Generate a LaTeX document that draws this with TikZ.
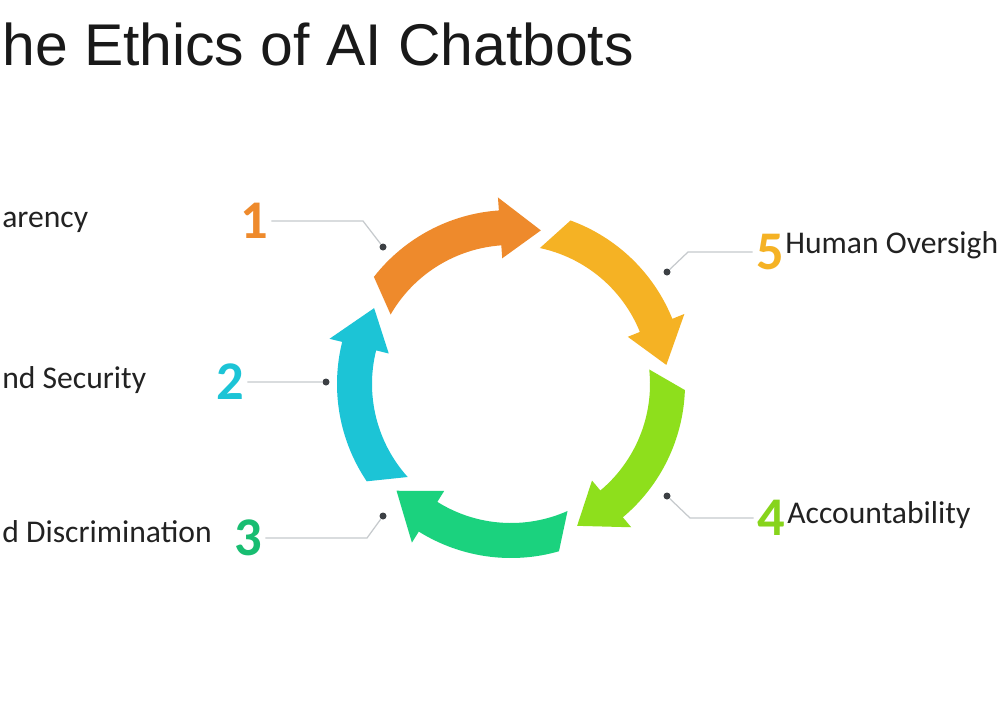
\documentclass[tikz,border=0pt]{standalone}
\usepackage{fontspec}
\setmainfont{Carlito}
\newfontfamily\titlefont{Liberation Sans}
\usepackage{xcolor}
\definecolor{ringorange}{HTML}{EE8A2C}
\definecolor{ringyellow}{HTML}{F5B224}
\definecolor{ringlime}{HTML}{8EDF1C}
\definecolor{ringgreen}{HTML}{1BD27E}
\definecolor{ringcyan}{HTML}{1CC4D6}
\definecolor{leadergray}{HTML}{C6CACD}
\definecolor{dotgray}{HTML}{3C4044}
\definecolor{labelgray}{HTML}{222222}

\begin{document}
\begin{tikzpicture}[x=0.02cm,y=-0.02cm,
    num node/.style={inner sep=0,outer sep=2pt,font=\bfseries\fontsize{31}{31}\selectfont},
    label node/.style={inner sep=0,text=labelgray,font=\fontsize{18}{21}\selectfont},
    dot node/.style={circle,fill=dotgray,inner sep=0,minimum size=0.14cm},
    leader/.style={draw=leadergray,line width=0.7pt}]
    \clip (0,0) rectangle (1000,700);
    \useasboundingbox (0,0) rectangle (1000,700);
    \fill[white] (0,0) rectangle (1000,700);

    % title
    \node[inner sep=0,anchor=base west,text=black!90,font=\titlefont\fontsize{33.5}{36}\selectfont] (title) at (2,65) {he Ethics of AI Chatbots};

    % ring of arrows
    \begin{scope}[shift={(511,384)},x=0.02cm,y=0.02cm]
        \fill[ringorange] (142:174) arc[start angle=142,end angle=94,radius=174] -- (94:187) -- (79:156.5) -- (94:126) -- (94:139) arc[start angle=94,end angle=150,radius=139] -- cycle;
        \fill[ringyellow] (70:174) arc[start angle=70,end angle=22,radius=174] -- (22:187) -- (7:156.5) -- (22:126) -- (22:139) arc[start angle=22,end angle=78,radius=139] -- cycle;
        \fill[ringlime] (-2:174) arc[start angle=-2,end angle=-50,radius=174] -- (-50:187) -- (-65:156.5) -- (-50:126) -- (-50:139) arc[start angle=-50,end angle=6,radius=139] -- cycle;
        \fill[ringgreen] (-74:174) arc[start angle=-74,end angle=-122,radius=174] -- (-122:187) -- (-137:156.5) -- (-122:126) -- (-122:139) arc[start angle=-122,end angle=-66,radius=139] -- cycle;
        \fill[ringcyan] (-146:174) arc[start angle=-146,end angle=-194,radius=174] -- (-194:187) -- (-209:156.5) -- (-194:126) -- (-194:139) arc[start angle=-194,end angle=-138,radius=139] -- cycle;
    \end{scope}

    % numbers
    \node[num node,text=ringorange] (n1) at (254,221) {1};
    \node[num node,text=ringcyan] (n2) at (230,382) {2};
    \node[num node,text=ringgreen!90!black] (n3) at (248,538) {3};
    \node[num node,text=ringyellow] (n5) at (770,252) {5};
    \node[num node,text=ringlime!95!black] (n4) at (771,518) {4};

    % dots on the ring
    \node[dot node] (d1) at (383,247) {};
    \node[dot node] (d2) at (326,382) {};
    \node[dot node] (d3) at (383,516) {};
    \node[dot node] (d5) at (667,272) {};
    \node[dot node] (d4) at (667,496) {};
    \coordinate (k1) at (363,221);
    \coordinate (k3) at (367,538);
    \coordinate (k5) at (688,252);
    \coordinate (k4) at (690,518);

    \path[leader]
        (n1.east) -- (k1) -- (d1)
        (n2.east) -- (d2)
        (n3.east) -- (k3) -- (d3)
        (n5.west) -- (k5) -- (d5)
        (n4.west) -- (k4) -- (d4);

    % labels
    \node[label node,anchor=base west] (l1) at (2,227) {arency};
    \node[label node,anchor=base west] (l2) at (2,388) {nd Security};
    \node[label node,anchor=base west] (l3) at (2,542) {d Discrimination};
    \node[label node,anchor=base west] (l5) at (785,253) {Human Oversigh};
    \node[label node,anchor=base west] (l4) at (787,523) {Accountability};
\end{tikzpicture}
\end{document}
